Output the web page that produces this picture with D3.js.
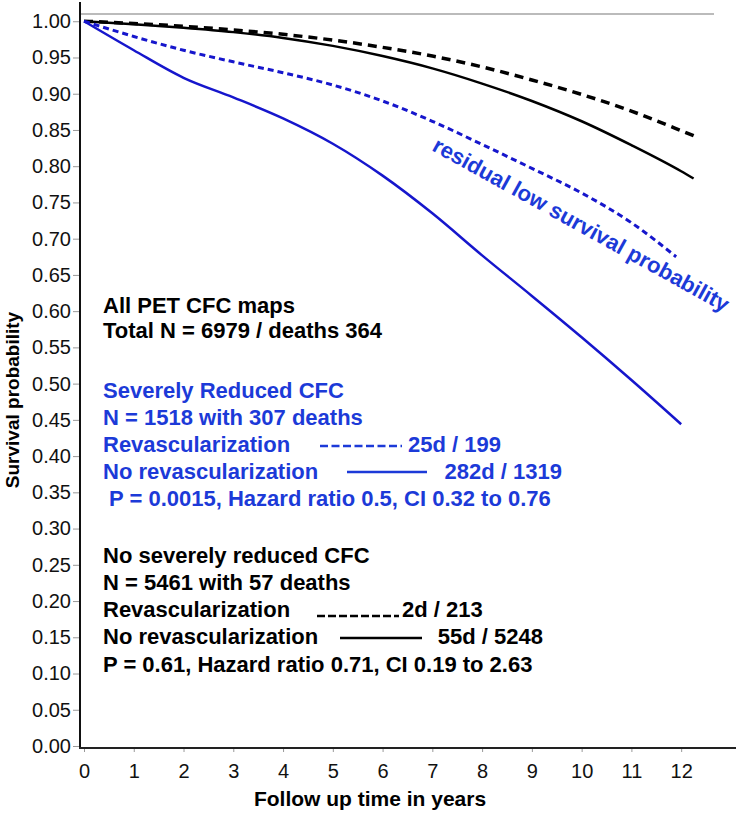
<!DOCTYPE html>
<html>
<head>
<meta charset="utf-8">
<script src="https://cdn.jsdelivr.net/npm/d3@7"></script>
<style>
  body { margin: 0; background: #fff; }
  svg { font-family: "Liberation Sans", Arial, sans-serif; }
</style>
</head>
<body>
<div id="chart"></div>
<script>

  // survival curves
  var years = [0, 1, 2, 3, 4, 5, 6, 7, 8, 9, 10, 11, 12];
  var blueRevascYears = [0, 1, 2, 3, 4, 5, 6, 7, 8, 9, 10, 11, 11.9];
  var blackYears = [0, 1, 2, 3, 4, 5, 6, 7, 8, 9, 10, 11, 12, 12.25];

  var blueRevasc   = [1.0, 0.979, 0.960, 0.944, 0.929, 0.912, 0.890, 0.862, 0.830, 0.797, 0.763, 0.722, 0.675];
  var blueNoRevasc = [1.0, 0.960, 0.922, 0.895, 0.866, 0.831, 0.787, 0.735, 0.677, 0.621, 0.564, 0.505, 0.444];
  var blackRevasc   = [1.0, 0.997, 0.993, 0.988, 0.982, 0.974, 0.964, 0.952, 0.937, 0.919, 0.899, 0.876, 0.849, 0.842];
  var blackNoRevasc = [1.0, 0.996, 0.991, 0.985, 0.977, 0.966, 0.952, 0.935, 0.914, 0.890, 0.862, 0.829, 0.793, 0.783];

  var yTicks = d3.range(0, 20.5).map(function(i) { return i * 0.05; });
  var xTicks = years;

  var blueLegend = [
    "Severely Reduced CFC",
    "N = 1518 with 307 deaths",
    "Revascularization",
    "No revascularization",
    "\u00a0P = 0.0015, Hazard ratio 0.5, CI 0.32 to 0.76"
  ];
  var blueCounts = ["25d / 199", "282d / 1319"];
  var blackLegend = [
    "No severely reduced CFC",
    "N = 5461 with 57 deaths",
    "Revascularization",
    "No revascularization",
    "P = 0.61, Hazard ratio 0.71, CI 0.19 to 2.63"
  ];
  var blackCounts = ["2d / 213", "55d / 5248"];

  var width = 742;
  var height = 816;
  var blue = "#1616cc";
  var blueText = "#1c3ad8";

  var svg = d3.select("#chart")
    .append("svg")
    .attr("width", width)
    .attr("height", height);

  var xScale = d3.scaleLinear().domain([0, 12.66]).range([84, 714]);
  var yScale = d3.scaleLinear().domain([0, 1.01]).range([746, 14]);

  // top frame line
  svg.append("line")
    .attr("x1", 80).attr("x2", xScale(12.66))
    .attr("y1", yScale(1.01)).attr("y2", yScale(1.01))
    .attr("stroke", "#bbb").attr("stroke-width", 2);

  // y axis
  var yaxis = svg.append("g")
    .attr("transform", "translate(80,0)")
    .call(d3.axisLeft(yScale).tickValues(yTicks).tickFormat(d3.format(".2f"))
      .tickSize(7).tickPadding(2));
  yaxis.select(".domain").remove();
  yaxis.selectAll(".tick line").attr("stroke", "#999");
  yaxis.selectAll("text").attr("font-size", 20).attr("fill", "#111");
  svg.append("line")
    .attr("x1", 80).attr("x2", 80).attr("y1", 2).attr("y2", 749)
    .attr("stroke", "#111").attr("stroke-width", 2);

  // x axis
  var xaxis = svg.append("g")
    .attr("transform", "translate(0,748)")
    .call(d3.axisBottom(xScale).tickValues(xTicks).tickSize(4).tickPadding(12));
  xaxis.select(".domain").remove();
  xaxis.selectAll(".tick line").attr("stroke", "#999");
  xaxis.selectAll("text").attr("font-size", 20).attr("fill", "#111");
  svg.append("line")
    .attr("x1", 79).attr("x2", 736).attr("y1", 748).attr("y2", 748)
    .attr("stroke", "#222").attr("stroke-width", 2);

  svg.append("text")
    .attr("x", 370).attr("y", 806)
    .attr("text-anchor", "middle")
    .attr("font-size", 21).attr("font-weight", "bold")
    .text("Follow up time in years");

  svg.append("text")
    .attr("transform", "translate(19,400) rotate(-90)")
    .attr("text-anchor", "middle")
    .attr("font-size", 19).attr("font-weight", "bold")
    .text("Survival probability");

  // curves
  function curve(ts, vs) {
    return d3.line()
      .x(function(d, i) { return xScale(ts[i]); })
      .y(function(d) { return yScale(d); })
      .curve(d3.curveMonotoneX)(vs);
  }

  svg.append("path").attr("d", curve(blackYears, blackNoRevasc))
    .attr("fill", "none").attr("stroke", "#000").attr("stroke-width", 2.5);
  svg.append("path").attr("d", curve(blackYears, blackRevasc))
    .attr("fill", "none").attr("stroke", "#000").attr("stroke-width", 3.5)
    .attr("stroke-dasharray", "9,6");
  svg.append("path").attr("d", curve(years, blueNoRevasc))
    .attr("fill", "none").attr("stroke", blue).attr("stroke-width", 2.5);
  svg.append("path").attr("d", curve(blueRevascYears, blueRevasc))
    .attr("fill", "none").attr("stroke", blue).attr("stroke-width", 3)
    .attr("stroke-dasharray", "6,4");

  svg.append("text")
    .attr("transform", "translate(431,150) rotate(29)")
    .attr("font-size", 22).attr("font-weight", "bold")
    .attr("fill", blueText)
    .text("residual low survival probability");

  // annotation block
  var txt = svg.append("g").attr("font-size", 22).attr("font-weight", "bold");

  txt.append("text").attr("x", 103).attr("y", 313).text("All PET CFC maps");
  txt.append("text").attr("x", 103).attr("y", 338).text("Total N = 6979 / deaths 364");

  var blueY = [398, 425, 452, 479, 506];
  txt.selectAll(".blue")
    .data(blueLegend)
    .enter()
    .append("text")
    .attr("class", "blue")
    .attr("x", 103)
    .attr("y", function(d, i) { return blueY[i]; })
    .attr("fill", blueText)
    .text(function(d) { return d; });

  var blackY = [563, 590, 617, 644, 672];
  txt.selectAll(".black")
    .data(blackLegend)
    .enter()
    .append("text")
    .attr("class", "black")
    .attr("x", 103)
    .attr("y", function(d, i) { return blackY[i]; })
    .attr("fill", "#000")
    .text(function(d) { return d; });

  txt.append("text").attr("x", 408).attr("y", blueY[2]).attr("fill", blueText).text(blueCounts[0]);
  txt.append("text").attr("x", 562).attr("y", blueY[3]).attr("text-anchor", "end").attr("fill", blueText).text(blueCounts[1]);
  txt.append("text").attr("x", 402).attr("y", blackY[2]).attr("fill", "#000").text(blackCounts[0]);
  txt.append("text").attr("x", 543).attr("y", blackY[3]).attr("text-anchor", "end").attr("fill", "#000").text(blackCounts[1]);

  // legend line samples
  svg.append("line").attr("x1", 320).attr("x2", 402).attr("y1", blueY[2] - 6).attr("y2", blueY[2] - 6)
    .attr("stroke", blueText).attr("stroke-width", 2.5).attr("stroke-dasharray", "8,3.5");
  svg.append("line").attr("x1", 347).attr("x2", 427).attr("y1", blueY[3] - 7).attr("y2", blueY[3] - 7)
    .attr("stroke", blueText).attr("stroke-width", 2.5);
  svg.append("line").attr("x1", 317).attr("x2", 399).attr("y1", blackY[2] - 1).attr("y2", blackY[2] - 1)
    .attr("stroke", "#000").attr("stroke-width", 2.5).attr("stroke-dasharray", "8,3");
  svg.append("line").attr("x1", 340).attr("x2", 422).attr("y1", blackY[3] - 6).attr("y2", blackY[3] - 6)
    .attr("stroke", "#000").attr("stroke-width", 2.5);

</script>
</body>
</html>
